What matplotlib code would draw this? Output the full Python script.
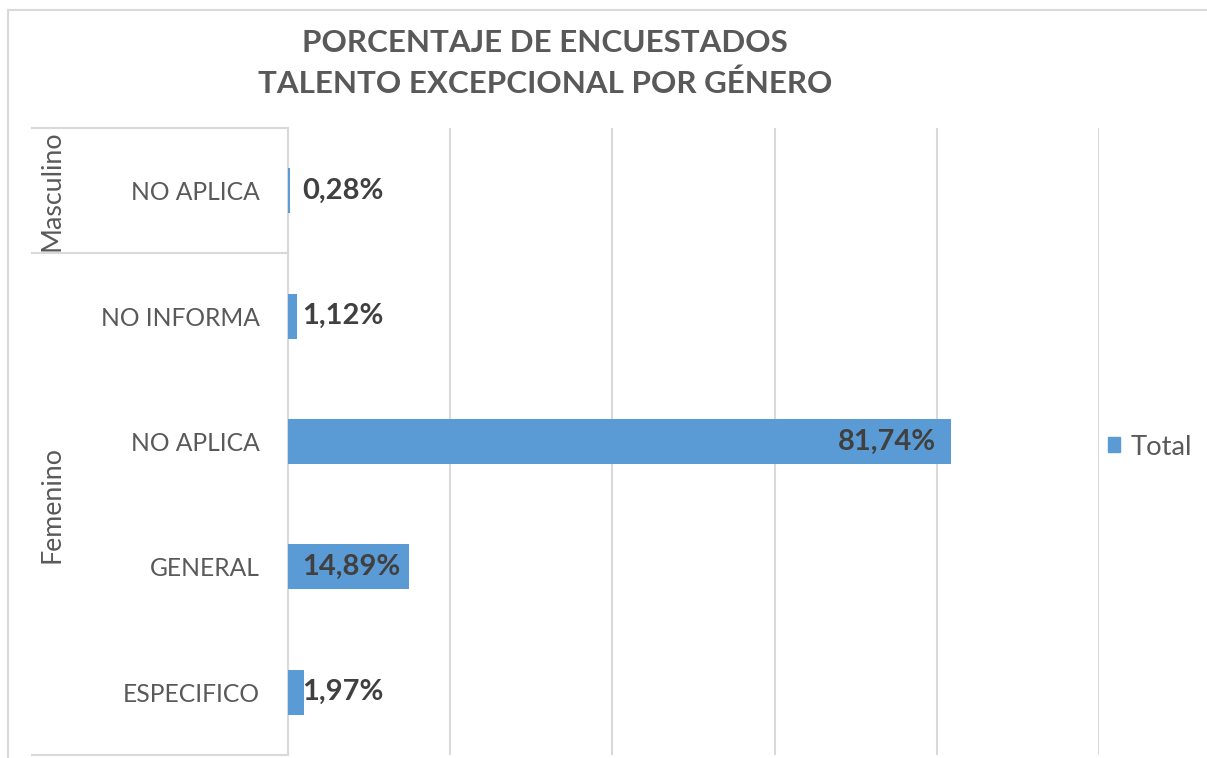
import matplotlib
matplotlib.use('Agg')
import matplotlib.pyplot as plt
from matplotlib.lines import Line2D

# Data
categories = ['NO APLICA', 'NO INFORMA', 'NO APLICA', 'GENERAL', 'ESPECIFICO']
values = [0.28, 1.12, 81.74, 14.89, 1.97]
groups = ['Masculino', 'Femenino']
group_sizes = [1, 4]

BAR = '#5B9BD5'
GRID = '#D9D9D9'
TXT = '#595959'
LBL = '#404040'

plt.rcParams['font.family'] = ['Lato', 'DejaVu Sans']

fig = plt.figure(figsize=(12.07, 7.58), dpi=100)
ax = fig.add_axes([288 / 1207, 3 / 758, 811 / 1207, 627 / 758])

y = list(range(len(values)))
ax.barh(y, values, height=0.36, color=BAR, zorder=3)
ax.set_xlim(0, 100)
ax.set_ylim(len(values) - 0.5, -0.5)

# Gridlines
ax.set_xticks([0, 20, 40, 60, 80, 100])
ax.set_xticklabels([])
ax.tick_params(axis='x', length=0)
ax.grid(axis='x', color=GRID, linewidth=1.5, zorder=0)

for s in ['top', 'bottom', 'right']:
    ax.spines[s].set_visible(False)
ax.spines['left'].set_color(GRID)
ax.spines['left'].set_linewidth(1.5)

ax.set_yticks(y)
ax.set_yticklabels(categories, fontsize=17.7, color=TXT)
ax.tick_params(axis='y', length=0, pad=20)

# Data labels
for yi, v in zip(y, values):
    txt = f'{v:.2f}%'.replace('.', ',')
    if v > 50:
        ax.text(v - 1.8, yi, txt, ha='right', va='center', fontsize=21,
                fontweight='bold', color=LBL, zorder=4)
    else:
        ax.text(1.8, yi, txt, ha='left', va='center', fontsize=21,
                fontweight='bold', color=LBL, zorder=4)

# Group separators and labels
trans = ax.get_yaxis_transform()
x0 = (32 - 288) / 811
start = -0.5
edges = [start]
for n in group_sizes:
    edges.append(edges[-1] + n)
for e in edges:
    ax.plot([x0, 0], [e, e], transform=trans, color=GRID, linewidth=1.5,
            clip_on=False)
for g, a, b in zip(groups, edges[:-1], edges[1:]):
    ax.text((52 - 288) / 811, (a + b) / 2, g, transform=trans, rotation=90,
            ha='center', va='center', fontsize=19.3, color=TXT)

# Chart border (top and left)
fig.add_artist(Line2D([8 / 1207, 8 / 1207], [0, 1 - 10 / 758],
                      transform=fig.transFigure, color=GRID, linewidth=1.5))
fig.add_artist(Line2D([8 / 1207, 1], [1 - 10 / 758, 1 - 10 / 758],
                      transform=fig.transFigure, color=GRID, linewidth=1.5))

# Title
fig.text(545 / 1207, 1 - 63.5 / 758,
         'PORCENTAJE DE ENCUESTADOS\nTALENTO EXCEPCIONAL POR GÉNERO',
         ha='center', va='center', fontsize=22.6, fontweight='bold', color=TXT,
         linespacing=1.55)

# Legend
handle = plt.Rectangle((0, 0), 1, 1, color=BAR)
fig.legend([handle], ['Total'], loc='center left',
           bbox_to_anchor=(1083 / 1207, 1 - 447 / 758), frameon=False,
           fontsize=19.7, labelcolor=TXT, handlelength=0.44, handleheight=0.44,
           handletextpad=0.4)

fig.savefig('out.png', dpi=100)
